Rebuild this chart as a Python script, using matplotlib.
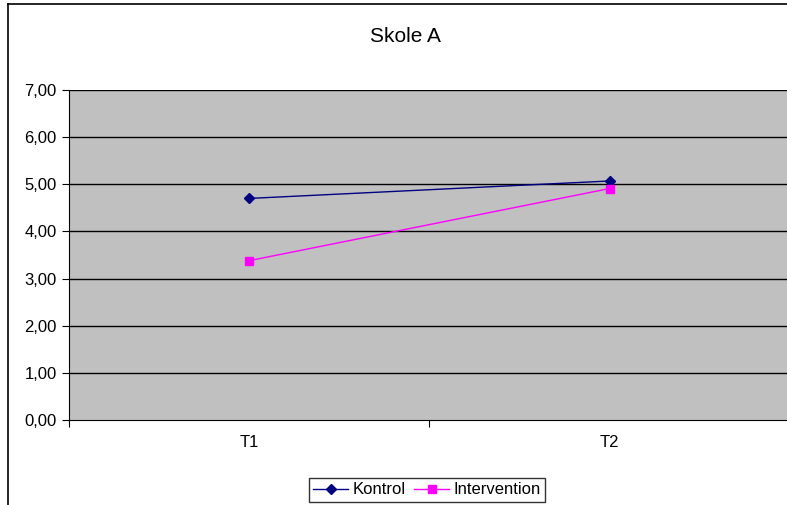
import matplotlib.pyplot as plt
from matplotlib.lines import Line2D

plt.rcParams['font.family'] = ['Liberation Sans', 'DejaVu Sans']

categories = ['T1', 'T2']
kontrol = [4.70, 5.07]
intervention = [3.38, 4.91]
yticks = [0, 1, 2, 3, 4, 5, 6, 7]

fig = plt.figure(figsize=(7.87, 5.05), dpi=100)
ax = fig.add_axes([0.0877, 0.1683, 0.916, 0.6535])
ax.set_facecolor('#C0C0C0')

xpos = [i + 0.5 for i in range(len(categories))]
ax.plot(xpos, kontrol, color='#000080', marker='D', markersize=5.5, lw=1, label='Kontrol')
ax.plot(xpos, intervention, color='#FF00FF', marker='s', markersize=5.5, lw=1, label='Intervention')

ax.set_xlim(0, len(categories))
ax.set_ylim(0, 7)
ax.set_yticks(yticks)
ax.set_yticklabels([('%.2f' % v).replace('.', ',') for v in yticks])
for v in yticks[1:]:
    ax.axhline(v, color='black', lw=1, zorder=1)

# category boundaries carry the ticks, names sit between them
ax.set_xticks(range(len(categories) + 1))
ax.set_xticklabels([])
ax.set_xticks(xpos, minor=True)
ax.set_xticklabels(categories, minor=True)
ax.tick_params(axis='x', which='minor', length=0, pad=11, labelsize=12)
ax.tick_params(axis='x', which='major', length=5, direction='out')
ax.tick_params(axis='y', length=5, direction='out', labelsize=12, pad=4)

for s in ['top', 'right']:
    ax.spines[s].set_visible(False)
ax.spines['left'].set_color('black')
ax.spines['bottom'].set_color('black')

fig.text(0.515, 0.927, 'Skole A', ha='center', va='center', fontsize=15)

# chart area border
fig.add_artist(Line2D([8 / 787, 8 / 787], [0, 1 - 4 / 505], color='black', lw=1.2))
fig.add_artist(Line2D([8 / 787, 1], [1 - 4 / 505, 1 - 4 / 505], color='black', lw=1.2))

leg = fig.legend(loc='center', bbox_to_anchor=(427 / 787, 1 - 490 / 505), ncol=2,
                 fontsize=12, frameon=True, fancybox=False, edgecolor='black',
                 handlelength=2.1, handletextpad=0.25, columnspacing=0.5,
                 borderpad=0.25, borderaxespad=0.2)
leg.get_frame().set_linewidth(1)

fig.savefig('out.png', dpi=100)
